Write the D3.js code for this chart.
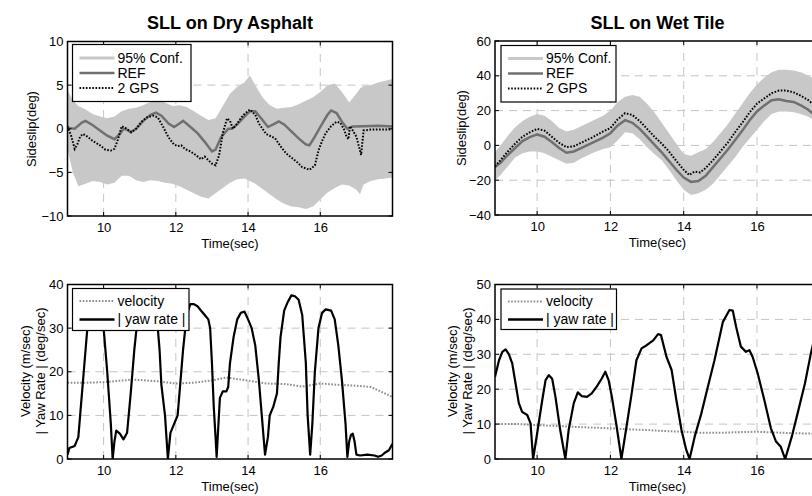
<!DOCTYPE html>
<html>
<head>
<meta charset="utf-8">
<script src="https://cdn.jsdelivr.net/npm/d3@7"></script>
<style>
  html, body { margin: 0; padding: 0; background: #fff; }
  svg text { font-family: "Liberation Sans", Arial, sans-serif; fill: #000; }
</style>
</head>
<body>
<svg id="chart" width="812" height="496"></svg>
<script>
// ---------------- DATA ----------------
const titles = ["SLL on Dry Asphalt", "SLL on Wet Tile"];
const xTicks = [10, 12, 14, 16];
const yTicksSideslipDry = [-10, -5, 0, 5, 10];
const yTicksSideslipWet = [-40, -20, 0, 20, 40, 60];
const yTicksRateDry = [0, 10, 20, 30, 40];
const yTicksRateWet = [0, 10, 20, 30, 40, 50];

// Dry asphalt: REF sideslip
const dryRefT = [9.0,9.2,9.4,9.5,9.7,9.9,10.1,10.3,10.45,10.55,10.65,10.75,10.9,11.1,11.3,11.45,11.6,11.8,11.95,12.1,12.2,12.35,12.6,12.8,13.0,13.1,13.25,13.45,13.55,13.7,13.9,14.05,14.2,14.4,14.55,14.7,14.85,15.0,15.2,15.4,15.6,15.7,15.85,16.0,16.2,16.3,16.45,16.6,16.75,16.9,17.2,17.6,18.0];
const dryRefV = [0.1,0.0,0.7,0.9,0.4,-0.2,-0.8,-1.2,-0.6,0.0,-0.1,-0.4,0.0,0.9,1.6,1.85,1.5,0.6,0.2,0.6,0.9,0.4,-0.5,-1.5,-2.6,-2.4,-1.0,0.0,0.0,0.5,1.4,2.0,2.0,1.0,0.2,0.5,0.85,0.5,-0.3,-1.1,-1.8,-1.9,-0.9,0.2,1.6,2.1,1.8,0.8,0.0,0.25,0.3,0.35,0.25];
// Dry asphalt: 2 GPS sideslip
const dryGpsT = [9.0,9.1,9.2,9.27,9.35,9.43,9.55,9.7,9.9,10.05,10.2,10.3,10.4,10.5,10.6,10.77,10.9,11.05,11.2,11.37,11.5,11.65,11.8,11.95,12.05,12.15,12.25,12.4,12.55,12.7,12.8,12.9,13.0,13.1,13.2,13.3,13.42,13.5,13.58,13.7,13.85,14.05,14.2,14.3,14.4,14.5,14.6,14.75,14.9,15.05,15.2,15.35,15.5,15.7,15.85,15.95,16.05,16.15,16.3,16.45,16.55,16.65,16.72,16.78,16.82,16.9,17.0,17.1,17.13,17.2,17.4,17.7,18.0];
const dryGpsV = [0.3,-0.8,-2.3,-1.8,-0.9,-0.6,-0.9,-1.4,-1.9,-2.4,-2.5,-2.3,-1.2,0.3,0.1,-0.4,0.0,0.8,1.3,1.5,1.3,0.2,-1.0,-1.8,-2.0,-1.9,-2.3,-2.6,-3.0,-3.5,-3.2,-3.6,-4.0,-4.2,-3.0,-0.5,1.2,0.9,0.0,0.6,1.5,2.2,1.6,0.6,0.0,-0.6,-0.8,-1.1,-2.0,-2.8,-3.3,-3.8,-4.4,-4.7,-4.2,-2.5,-1.4,-0.5,0.3,0.8,0.7,0.0,-0.8,-1.2,0.3,-0.2,-0.9,-2.5,-3.0,-0.2,-0.1,-0.1,-0.1];
// Dry asphalt: 95% confidence band
const dryBandT = [9.0,9.15,9.3,9.5,9.7,9.9,10.1,10.3,10.5,10.7,10.9,11.1,11.3,11.5,11.7,11.9,12.1,12.3,12.5,12.7,12.9,13.1,13.3,13.5,13.7,13.9,14.05,14.2,14.4,14.6,14.8,15.0,15.2,15.4,15.6,15.8,16.0,16.2,16.4,16.6,16.8,17.0,17.1,17.2,17.4,17.6,17.8,18.0];
const dryBandHi = [4.4,3.3,2.6,2.2,1.7,1.4,1.2,1.4,2.0,2.3,2.4,2.7,3.1,3.3,3.0,2.6,2.7,2.5,2.0,1.5,1.0,1.2,2.6,4.0,4.8,5.3,6.1,5.0,3.6,2.7,2.3,2.4,2.5,2.8,3.2,3.6,4.2,5.0,5.2,4.2,3.0,4.0,4.6,4.9,5.0,5.3,5.5,5.7];
const dryBandLo = [-2.4,-5.0,-6.6,-6.3,-6.0,-6.1,-6.4,-6.2,-5.4,-5.4,-5.9,-6.1,-5.9,-6.0,-6.2,-6.3,-6.6,-7.0,-7.4,-7.8,-8.0,-7.4,-6.8,-6.2,-5.8,-5.7,-6.0,-6.3,-6.9,-7.5,-8.1,-8.6,-8.9,-9.0,-9.2,-8.9,-8.1,-7.3,-6.8,-6.4,-6.5,-7.0,-7.5,-6.4,-6.0,-5.8,-5.7,-5.6];

// Wet tile: REF sideslip
const wetRefT = [8.85,9.0,9.2,9.4,9.6,9.8,10.0,10.2,10.4,10.6,10.8,11.0,11.2,11.5,11.8,12.0,12.2,12.4,12.6,12.8,13.0,13.2,13.4,13.6,13.8,14.0,14.2,14.4,14.6,14.8,15.0,15.2,15.4,15.6,15.8,16.0,16.2,16.4,16.6,16.8,17.0,17.2,17.4,17.6,17.72];
const wetRefV = [-12.4,-10,-5.5,-1.5,2.5,4.8,6.3,5,2,-1.5,-4.2,-3.5,-1.5,1.5,4.5,7,11.5,14.5,13,9.5,5,0.5,-4,-9,-14,-18.5,-21,-20.5,-17.5,-12.5,-7.5,-2.5,3,8.5,14.5,19.5,23,26,26.5,25.5,25,23,20.5,17,14];
// Wet tile: 2 GPS sideslip
const wetGpsT = [8.85,9.0,9.2,9.4,9.6,9.8,10.0,10.2,10.4,10.6,10.8,11.0,11.2,11.5,11.8,12.0,12.2,12.4,12.6,12.8,13.0,13.2,13.4,13.6,13.8,14.0,14.15,14.3,14.45,14.6,14.8,15.0,15.2,15.4,15.6,15.8,16.0,16.2,16.4,16.6,16.8,17.0,17.2,17.4,17.6,17.72];
const wetGpsV = [-12,-8.5,-3.5,1,5,7.5,9.5,8.5,5,1.5,-1,-0.5,1.5,4.5,8,10,15,18.5,17.5,14,9.5,5,1,-3.5,-9,-14,-17,-15,-15.5,-13,-8.5,-3.5,1.5,7.5,13,19,24,27,30,31.5,31.5,30.5,28.5,26,22.5,20];
// Wet tile: 95% confidence band
const wetBandT = [8.85,9.0,9.2,9.4,9.6,9.8,10.0,10.2,10.4,10.6,10.8,11.0,11.2,11.5,11.8,12.0,12.2,12.4,12.6,12.8,13.0,13.2,13.4,13.6,13.8,14.0,14.2,14.4,14.6,14.8,15.0,15.2,15.4,15.6,15.8,16.0,16.2,16.4,16.6,16.8,17.0,17.2,17.4,17.6,17.72];
const wetBandHi = [-4,0,5.5,10.5,14,16.5,18,17,14,10,8,9,11,14,17,20,25,28,29,28,24,19,13,7,1,-5,-6,-4,-2,2,7,12,18,24,30,35,39,42,43.5,43.5,43,42,40,38,36];
const wetBandLo = [-20,-17,-12,-7,-4.5,-3.5,-3.5,-4.5,-6.5,-8.5,-10.5,-10,-7.5,-4.5,-2,-1,3,7.5,7,3.5,-1,-5,-8.5,-14,-20,-25.5,-28.5,-27.5,-25.5,-22,-17,-12,-7,-1,4,9,14,18,19.5,19.5,19,18,16.5,14,12];

// Dry asphalt: velocity and |yaw rate|
const dryVelT = [9.0,9.5,10.0,10.4,10.8,11.2,11.5,12.0,12.5,13.0,13.4,13.8,14.0,14.5,15.0,15.5,16.0,16.5,17.0,17.4,17.8,18.0];
const dryVelV = [17.5,17.5,17.6,17.9,18.2,18.0,17.8,17.3,17.5,18.0,18.7,18.2,18.0,17.3,17.2,16.6,17.3,17.0,16.8,16.5,15.0,14.2];
const dryYawT = [9.0,9.05,9.2,9.3,9.35,9.45,9.55,9.6,9.75,9.9,10.0,10.1,10.2,10.25,10.3,10.35,10.45,10.55,10.65,10.75,10.85,10.95,11.15,11.4,11.5,11.55,11.6,11.7,11.78,11.85,11.95,12.05,12.1,12.2,12.3,12.4,12.5,12.6,12.7,12.8,12.9,12.95,13.0,13.05,13.1,13.13,13.18,13.22,13.3,13.4,13.45,13.5,13.6,13.7,13.8,13.9,14.0,14.1,14.2,14.3,14.4,14.47,14.55,14.6,14.7,14.8,14.85,14.9,15.0,15.1,15.2,15.3,15.4,15.5,15.6,15.65,15.72,15.78,15.85,15.95,16.05,16.15,16.3,16.4,16.5,16.6,16.7,16.75,16.8,16.85,16.9,16.95,17.0,17.1,17.3,17.5,17.6,17.7,17.8,17.9,18.0];
const dryYawV = [1,2.5,3,5,10,20,30,35,38,36,30,20,8,0,4,6.5,5.8,4.5,6,15,25,33,37,35,30,25,17,10,0,6,8,10,15,25,33,35.5,35.5,35,34,33,32,30,22,12,5,0.5,8,14,15.5,15.5,16.5,22,28,32,33.5,33.8,32,30,26,18,8,1,5,10,12,15,22,28,34,36,37.5,37.3,36.5,33,22,10,1,8,20,30,33.5,34.3,34,32,26,18,8,0.5,4,5.5,5.8,4,1,0.8,1,0.8,0.5,0.8,1.5,2,3.5];

// Wet tile: velocity and |yaw rate|
const wetVelT = [8.85,9.5,10.0,10.5,11.0,11.5,12.0,12.5,13.0,13.5,14.0,14.5,15.0,15.5,16.0,16.5,17.0,17.72];
const wetVelV = [10,10,9.7,9.5,9.2,9.0,8.8,8.5,8.3,8.0,7.8,7.5,7.5,7.7,7.8,7.6,7.4,7.2];
const wetYawT = [8.85,8.96,9.05,9.14,9.23,9.32,9.41,9.5,9.59,9.73,9.82,9.89,10.0,10.14,10.23,10.32,10.41,10.5,10.63,10.77,10.86,11.0,11.11,11.22,11.36,11.49,11.63,11.76,11.86,11.95,12.04,12.17,12.3,12.44,12.58,12.71,12.85,12.99,13.17,13.3,13.38,13.53,13.67,13.8,13.94,14.07,14.16,14.3,14.48,14.66,14.84,15.07,15.25,15.34,15.43,15.56,15.7,15.79,15.88,16.02,16.2,16.38,16.52,16.65,16.77,16.95,17.13,17.31,17.47,17.6,17.72];
const wetYawV = [23.6,28.3,30.7,31.4,30,27.4,21.7,16,13.5,12.6,10.2,0,7.3,16.9,22.6,24,23,17.8,8.3,0,8.3,16,19.1,18,17.8,18.8,20.8,23,25,22.6,17.8,9.3,0,9.3,18.8,28.3,31.7,32.6,34,35.8,35.5,29.3,25.5,16.9,8.3,2.6,0,6.4,13,20.7,28.3,39.3,42.7,42.5,37.9,32.2,30.7,31.2,29.3,24.5,16.9,8.8,5,3.5,0,6.4,14,21.7,30.2,36,40];

const legendTop = ["95% Conf.", "REF", "2 GPS"];
const legendBottom = ["velocity", "| yaw rate |"];

// ---------------- DRAW ----------------
const svg = d3.select("#chart");
const zip = (t, v) => t.map((d, i) => [d, v[i]]);

const GRID = "#c4c4c4", BAND = "#c8c8c8", REFC = "#707070", VELC = "#8c8c8c";
const FONT = "Liberation Sans, Arial, sans-serif";

function panel(id, xr, yr, xd, yd, yTicks) {
  const x = d3.scaleLinear().domain(xd).range(xr);
  const y = d3.scaleLinear().domain(yd).range(yr);
  const g = svg.append("g");
  g.append("clipPath").attr("id", id).append("rect")
    .attr("x", xr[0]).attr("y", yr[1]).attr("width", xr[1] - xr[0]).attr("height", yr[0] - yr[1]);
  const plot = g.append("g").attr("clip-path", `url(#${id})`);
  return { x, y, g, plot, xr, yr, yTicks };
}

function grid(p) {
  const gg = p.g.append("g");
  xTicks.forEach(t => {
    const xx = p.x(t);
    if (xx > p.xr[0] + 1 && xx < p.xr[1] - 1)
      gg.append("line").attr("x1", xx).attr("x2", xx).attr("y1", p.yr[0]).attr("y2", p.yr[1])
        .attr("stroke", GRID).attr("stroke-width", 1).attr("stroke-dasharray", "8,6");
  });
  p.yTicks.forEach(t => {
    const yy = p.y(t);
    if (yy < p.yr[0] - 1 && yy > p.yr[1] + 1)
      gg.append("line").attr("x1", p.xr[0]).attr("x2", p.xr[1]).attr("y1", yy).attr("y2", yy)
        .attr("stroke", GRID).attr("stroke-width", 1).attr("stroke-dasharray", "8,6");
  });
}

function axes(p) {
  const ax = p.g.append("g");
  const xb = d3.axisBottom(p.x).tickValues(xTicks).tickSize(0).tickPadding(7).tickFormat(d3.format("d"));
  const xa = ax.append("g").attr("transform", `translate(0,${p.yr[0]})`).call(xb);
  xa.select(".domain").remove();
  xa.selectAll("text").attr("font-size", 13).attr("font-family", FONT).attr("fill", "#000");
  const ya = ax.append("g").attr("transform", `translate(${p.xr[0]},0)`)
    .call(d3.axisLeft(p.y).tickValues(p.yTicks).tickSize(0).tickPadding(4).tickFormat(d3.format("d")));
  ya.select(".domain").remove();
  ya.selectAll("text").attr("font-size", 13).attr("font-family", FONT).attr("fill", "#000");
  xTicks.forEach(t => {
    const xx = p.x(t);
    if (xx > p.xr[0] && xx < p.xr[1]) {
      ax.append("line").attr("x1", xx).attr("x2", xx).attr("y1", p.yr[0]).attr("y2", p.yr[0] - 4).attr("stroke", "#000");
      ax.append("line").attr("x1", xx).attr("x2", xx).attr("y1", p.yr[1]).attr("y2", p.yr[1] + 4).attr("stroke", "#000");
    }
  });
  p.yTicks.forEach(t => {
    const yy = p.y(t);
    ax.append("line").attr("x1", p.xr[0]).attr("x2", p.xr[0] + 4).attr("y1", yy).attr("y2", yy).attr("stroke", "#000");
    ax.append("line").attr("x1", p.xr[1]).attr("x2", p.xr[1] - 4).attr("y1", yy).attr("y2", yy).attr("stroke", "#000");
  });
  ax.append("rect").attr("x", p.xr[0]).attr("y", p.yr[1]).attr("width", p.xr[1] - p.xr[0]).attr("height", p.yr[0] - p.yr[1])
    .attr("fill", "none").attr("stroke", "#000").attr("stroke-width", 1.5);
  ax.append("text").attr("x", (p.xr[0] + p.xr[1]) / 2).attr("y", p.yr[0] + 32).attr("text-anchor", "middle")
    .attr("font-size", 13).text("Time(sec)");
}

function drawSideslip(p, bandT, hi, lo, refT, refV, gpsT, gpsV) {
  const area = d3.area().x(d => p.x(d[0])).y0(d => p.y(d[1])).y1(d => p.y(d[2]));
  p.plot.append("path").datum(bandT.map((t, i) => [t, lo[i], hi[i]])).attr("d", area).attr("fill", BAND);
  grid(p);
  const line = d3.line().x(d => p.x(d[0])).y(d => p.y(d[1]));
  p.plot.append("path").datum(zip(refT, refV)).attr("d", line).attr("fill", "none")
    .attr("stroke", REFC).attr("stroke-width", 2.5);
  p.plot.append("path").datum(zip(gpsT, gpsV)).attr("d", line).attr("fill", "none")
    .attr("stroke", "#000").attr("stroke-width", 2).attr("stroke-dasharray", "1.6,1.6");
  p.g.node().appendChild(p.plot.node());
}

function drawRate(p, velT, velV, yawT, yawV) {
  grid(p);
  const line = d3.line().x(d => p.x(d[0])).y(d => p.y(d[1]));
  p.plot.append("path").datum(zip(velT, velV)).attr("d", line).attr("fill", "none")
    .attr("stroke", VELC).attr("stroke-width", 2).attr("stroke-dasharray", "1.6,1.6");
  p.plot.append("path").datum(zip(yawT, yawV)).attr("d", line).attr("fill", "none")
    .attr("stroke", "#000").attr("stroke-width", 2.2).attr("stroke-linejoin", "round");
  p.g.node().appendChild(p.plot.node());
}

function legend(box, rows, items) {
  const lg = svg.append("g");
  lg.append("rect").attr("x", box[0]).attr("y", box[1]).attr("width", box[2] - box[0]).attr("height", box[3] - box[1])
    .attr("fill", "#fff").attr("stroke", "#000").attr("stroke-width", 1.2);
  items.forEach((it, i) => {
    lg.append("line").attr("x1", box[0] + 7).attr("x2", box[0] + 42).attr("y1", rows[i]).attr("y2", rows[i])
      .attr("stroke", it.c).attr("stroke-width", it.w).attr("stroke-dasharray", it.dash || null);
    lg.append("text").attr("x", box[0] + 45).attr("y", rows[i]).attr("dy", "0.35em").attr("font-size", 14).text(it.label);
  });
}

function ylabel(lines, x0, yc) {
  lines.forEach((l, i) => {
    svg.append("text").attr("transform", `translate(${x0[i]},${yc}) rotate(-90)`).attr("text-anchor", "middle")
      .attr("dy", "0.35em").attr("font-size", 13).text(l);
  });
}

const p1 = panel("c1", [67.5, 392.5], [216, 41.5], [9, 18], [-10, 10], yTicksSideslipDry);
const p2 = panel("c2", [495, 820], [215, 41], [8.85, 17.72], [-40, 60], yTicksSideslipWet);
const p3 = panel("c3", [67.5, 392.5], [459, 284.5], [9, 18], [0, 40], yTicksRateDry);
const p4 = panel("c4", [495, 820], [459, 284.5], [8.85, 17.72], [0, 50], yTicksRateWet);

drawSideslip(p1, dryBandT, dryBandHi, dryBandLo, dryRefT, dryRefV, dryGpsT, dryGpsV);
drawSideslip(p2, wetBandT, wetBandHi, wetBandLo, wetRefT, wetRefV, wetGpsT, wetGpsV);
drawRate(p3, dryVelT, dryVelV, dryYawT, dryYawV);
drawRate(p4, wetVelT, wetVelV, wetYawT, wetYawV);
[p1, p2, p3, p4].forEach(axes);

svg.append("text").attr("x", 230).attr("y", 23).attr("dy", "0.35em").attr("text-anchor", "middle")
  .attr("font-size", 18).attr("font-weight", "bold").text(titles[0]);
svg.append("text").attr("x", 657.5).attr("y", 23).attr("dy", "0.35em").attr("text-anchor", "middle")
  .attr("font-size", 18).attr("font-weight", "bold").text(titles[1]);

ylabel(["Sideslip(deg)"], [31], 129);
ylabel(["Sideslip(deg)"], [461], 128);
ylabel(["Velocity (m/sec)", "| Yaw Rate | (deg/sec)"], [25, 40], 371);
ylabel(["Velocity (m/sec)", "| Yaw Rate | (deg/sec)"], [452, 467], 371);

const topItems = [
  { label: legendTop[0], c: BAND, w: 3 },
  { label: legendTop[1], c: REFC, w: 2.5 },
  { label: legendTop[2], c: "#000", w: 2, dash: "1.6,1.6" }
];
const botItems = [
  { label: legendBottom[0], c: VELC, w: 2, dash: "1.6,1.6" },
  { label: legendBottom[1], c: "#000", w: 2.5 }
];
legend([72.5, 44.5, 191, 101.5], [58, 73, 88], topItems);
legend([501, 45.5, 616, 102], [58.5, 73.5, 88.5], topItems);
legend([72.5, 288.5, 189, 330.5], [301, 319.5], botItems);
legend([501, 289, 616.5, 329.5], [301.5, 319.5], botItems);
</script>
</body>
</html>
